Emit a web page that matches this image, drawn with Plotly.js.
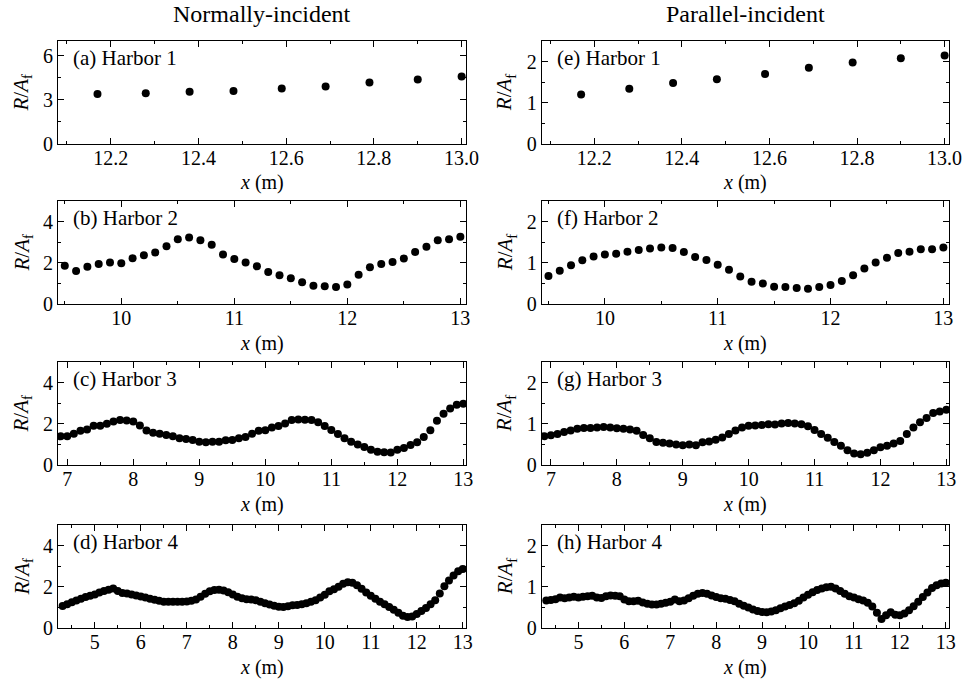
<!DOCTYPE html>
<html>
<head>
<meta charset="utf-8">
<script src="https://cdn.plot.ly/plotly-3.0.1.min.js"></script>
<style>
html,body{margin:0;padding:0;background:#fff;}
#chart{width:966px;height:679px;}
</style>
</head>
<body>
<div id="chart"></div>
<script>
// ---------- data ----------
var columnTitles = ["Normally-incident", "Parallel-incident"];
var panelLabels = ["(a) Harbor 1", "(b) Harbor 2", "(c) Harbor 3", "(d) Harbor 4",
                   "(e) Harbor 1", "(f) Harbor 2", "(g) Harbor 3", "(h) Harbor 4"];

var xH1 = [12.17, 12.28, 12.38, 12.48, 12.59, 12.69, 12.79, 12.90, 13.00];
var xH2 = [9.5, 9.6, 9.7, 9.8, 9.9, 10.0, 10.1, 10.2, 10.3, 10.4, 10.5, 10.6, 10.7, 10.8, 10.9,
           11.0, 11.1, 11.2, 11.3, 11.4, 11.5, 11.6, 11.7, 11.8, 11.9,
           12.0, 12.1, 12.2, 12.3, 12.4, 12.5, 12.6, 12.7, 12.8, 12.9, 13.0];
var xH3 = [6.9, 7.0, 7.1, 7.2, 7.3, 7.4, 7.5, 7.6, 7.7, 7.8, 7.9,
           8.0, 8.1, 8.2, 8.3, 8.4, 8.5, 8.6, 8.7, 8.8, 8.9,
           9.0, 9.1, 9.2, 9.3, 9.4, 9.5, 9.6, 9.7, 9.8, 9.9,
           10.0, 10.1, 10.2, 10.3, 10.4, 10.5, 10.6, 10.7, 10.8, 10.9,
           11.0, 11.1, 11.2, 11.3, 11.4, 11.5, 11.6, 11.7, 11.8, 11.9,
           12.0, 12.1, 12.2, 12.3, 12.4, 12.5, 12.6, 12.7, 12.8, 12.9, 13.0];
var xH4 = [4.3, 4.4, 4.5, 4.6, 4.7, 4.8, 4.9,
           5.0, 5.1, 5.2, 5.3, 5.4, 5.5, 5.6, 5.7, 5.8, 5.9,
           6.0, 6.1, 6.2, 6.3, 6.4, 6.5, 6.6, 6.7, 6.8, 6.9,
           7.0, 7.1, 7.2, 7.3, 7.4, 7.5, 7.6, 7.7, 7.8, 7.9,
           8.0, 8.1, 8.2, 8.3, 8.4, 8.5, 8.6, 8.7, 8.8, 8.9,
           9.0, 9.1, 9.2, 9.3, 9.4, 9.5, 9.6, 9.7, 9.8, 9.9,
           10.0, 10.1, 10.2, 10.3, 10.4, 10.5, 10.6, 10.7, 10.8, 10.9,
           11.0, 11.1, 11.2, 11.3, 11.4, 11.5, 11.6, 11.7, 11.8, 11.9,
           12.0, 12.1, 12.2, 12.3, 12.4, 12.5, 12.6, 12.7, 12.8, 12.9, 13.0];

// Normally-incident R/A_f
var normH1 = [3.39, 3.45, 3.55, 3.61, 3.77, 3.91, 4.18, 4.39, 4.59];
var normH2 = [1.86, 1.60, 1.81, 1.94, 2.01, 1.98, 2.22, 2.37, 2.50, 2.80, 3.14, 3.23, 3.09, 2.88, 2.40,
              2.19, 2.02, 1.83, 1.55, 1.40, 1.25, 1.05, 0.89, 0.86, 0.82,
              0.95, 1.42, 1.79, 1.94, 2.04, 2.21, 2.53, 2.78, 3.09, 3.14, 3.26];
var normH3 = [1.39, 1.39, 1.52, 1.66, 1.72, 1.90, 1.90, 2.00, 2.11, 2.18, 2.16,
              2.11, 1.92, 1.67, 1.56, 1.52, 1.46, 1.39, 1.30, 1.26, 1.21,
              1.13, 1.11, 1.13, 1.13, 1.20, 1.21, 1.30, 1.36, 1.52, 1.66,
              1.69, 1.82, 1.89, 2.02, 2.18, 2.21, 2.20, 2.18, 2.08, 1.89,
              1.70, 1.51, 1.30, 1.13, 1.00, 0.87, 0.74, 0.64, 0.62, 0.61,
              0.74, 0.82, 0.97, 1.10, 1.36, 1.69, 2.15, 2.49, 2.74, 2.93, 2.97];
var normH4 = [1.07, 1.15, 1.25, 1.33, 1.42, 1.50, 1.57,
              1.63, 1.72, 1.80, 1.86, 1.92, 1.80, 1.70, 1.67, 1.63, 1.58,
              1.53, 1.48, 1.42, 1.37, 1.32, 1.28, 1.27, 1.27, 1.27, 1.28,
              1.29, 1.32, 1.38, 1.52, 1.66, 1.78, 1.84, 1.86, 1.82, 1.74,
              1.63, 1.52, 1.44, 1.40, 1.38, 1.35, 1.28, 1.20, 1.14, 1.08,
              1.03, 1.02, 1.06, 1.10, 1.12, 1.15, 1.20, 1.27, 1.35, 1.48,
              1.62, 1.78, 1.88, 2.00, 2.15, 2.22, 2.20, 2.08, 1.90, 1.72,
              1.56, 1.42, 1.28, 1.15, 1.02, 0.88, 0.74, 0.60, 0.53, 0.56,
              0.68, 0.82, 0.97, 1.15, 1.35, 1.68, 2.03, 2.30, 2.55, 2.75, 2.87];

// Parallel-incident R/A_f
var parH1 = [1.20, 1.34, 1.48, 1.57, 1.70, 1.85, 1.98, 2.08, 2.15];
var parH2 = [0.68, 0.81, 0.94, 1.06, 1.15, 1.20, 1.22, 1.27, 1.31, 1.35, 1.37, 1.36, 1.26, 1.14, 1.07,
             0.95, 0.83, 0.67, 0.54, 0.50, 0.42, 0.41, 0.39, 0.37, 0.41,
             0.46, 0.56, 0.70, 0.86, 1.01, 1.12, 1.24, 1.27, 1.33, 1.33, 1.37];
var parH3 = [0.70, 0.72, 0.75, 0.80, 0.84, 0.88, 0.90, 0.90, 0.91, 0.92, 0.91,
             0.89, 0.88, 0.86, 0.83, 0.73, 0.65, 0.56, 0.54, 0.52, 0.50,
             0.48, 0.50, 0.48, 0.55, 0.57, 0.61, 0.67, 0.75, 0.84, 0.91,
             0.95, 0.96, 0.97, 0.99, 0.98, 1.01, 1.02, 1.01, 0.99, 0.94,
             0.85, 0.75, 0.66, 0.56, 0.47, 0.36, 0.28, 0.26, 0.30, 0.36,
             0.43, 0.47, 0.52, 0.58, 0.75, 0.91, 1.04, 1.14, 1.26, 1.30, 1.34];
var parH4 = [0.67, 0.68, 0.70, 0.74, 0.72, 0.74, 0.76,
             0.74, 0.76, 0.77, 0.78, 0.74, 0.73, 0.77, 0.79, 0.78, 0.77,
             0.69, 0.65, 0.65, 0.66, 0.62, 0.59, 0.57, 0.57, 0.59, 0.61,
             0.64, 0.69, 0.65, 0.67, 0.72, 0.78, 0.83, 0.85, 0.83, 0.79,
             0.75, 0.72, 0.71, 0.68, 0.65, 0.59, 0.54, 0.50, 0.45, 0.41,
             0.39, 0.38, 0.40, 0.43, 0.48, 0.52, 0.56, 0.60, 0.66, 0.74,
             0.81, 0.87, 0.92, 0.96, 0.99, 1.00, 0.96, 0.90, 0.83, 0.77,
             0.74, 0.70, 0.67, 0.61, 0.52, 0.37, 0.22, 0.31, 0.38, 0.32,
             0.31, 0.35, 0.43, 0.53, 0.64, 0.75, 0.86, 0.97, 1.04, 1.08, 1.10];

// ---------- layout geometry (pixels) ----------
var W = 966, H = 679;
var FAM = "Liberation Serif";
var colPx = [[58, 466], [541.7, 949]];
var rowPx = [[41, 144], [201, 304], [362, 465], [525, 628]];

var xsets = [xH1, xH2, xH3, xH4];
var ysets = [[normH1, normH2, normH3, normH4], [parH1, parH2, parH3, parH4]];
var xRanges = [[12.08, 13.01], [9.44, 13.05], [6.86, 13.04], [4.2, 13.07]];
var xDticks = [[0.2, 0.1], [1, 0.5], [1, 0.5], [1, 0.5]];
var yRanges = [[[0, 7], [0, 5], [0, 5], [0, 5]], [[0, 2.5], [0, 2.5], [0, 2.5], [0, 2.5]]];
var yDticks = [[[3, 1.5], [2, 1], [2, 1], [2, 1]], [[1, 0.5], [1, 0.5], [1, 0.5], [1, 0.5]]];

function px2x(p) { return p / W; }
function py2y(p) { return 1 - p / H; }

var traces = [];
var annos = [];
var layout = {
  width: W, height: H,
  margin: {l: 0, r: 0, t: 0, b: 0},
  paper_bgcolor: "#fff", plot_bgcolor: "#fff",
  showlegend: false,
  font: {family: FAM, color: "#000"}
};

function axisBase() {
  return {
    showline: true, linecolor: "#000", linewidth: 1, mirror: "allticks",
    ticks: "inside", ticklen: 6, tickwidth: 1, tickcolor: "#000",
    showgrid: false, zeroline: false, fixedrange: true,
    tickfont: {family: FAM, size: 20}
  };
}

for (var c = 0; c < 2; c++) {
  for (var r = 0; r < 4; r++) {
    var idx = c * 4 + r + 1;
    var sfx = (idx === 1 ? "" : String(idx));
    traces.push({
      type: "scatter", mode: "markers",
      x: xsets[r], y: ysets[c][r],
      xaxis: "x" + sfx, yaxis: "y" + sfx,
      marker: {color: "#000", size: 8},
      hoverinfo: "skip"
    });
    var xax = axisBase();
    xax.domain = [px2x(colPx[c][0]), px2x(colPx[c][1])];
    xax.anchor = "y" + sfx;
    xax.range = xRanges[r];
    xax.dtick = xDticks[r][0];
    xax.tick0 = 0;
    xax.ticklabelstandoff = -4;
    xax.minor = {ticks: "inside", ticklen: 3, tickwidth: 1, tickcolor: "#000", dtick: xDticks[r][1], tick0: 0};
    if (r === 0) xax.tickformat = ".1f";
    var yax = axisBase();
    yax.domain = [py2y(rowPx[r][1]), py2y(rowPx[r][0])];
    yax.anchor = "x" + sfx;
    yax.range = yRanges[c][r];
    yax.dtick = yDticks[c][r][0];
    yax.tick0 = 0;
    yax.minor = {ticks: "inside", ticklen: 3, tickwidth: 1, tickcolor: "#000", dtick: yDticks[c][r][1], tick0: 0};
    layout["xaxis" + sfx] = xax;
    layout["yaxis" + sfx] = yax;

    annos.push({
      text: panelLabels[idx - 1], xref: "paper", yref: "paper",
      x: px2x(colPx[c][0] + 13), y: py2y(rowPx[r][0] + 17),
      xanchor: "left", yanchor: "middle", showarrow: false,
      font: {family: FAM, size: 21}
    });
    annos.push({
      text: "<i>x</i> (m)", xref: "paper", yref: "paper",
      x: px2x((colPx[c][0] + colPx[c][1]) / 2), y: py2y(rowPx[r][1] + 39),
      xanchor: "center", yanchor: "middle", showarrow: false,
      font: {family: FAM, size: 20}
    });
    annos.push({
      text: "<i>R</i>/<i>A</i><sub>f</sub>", xref: "paper", yref: "paper",
      x: px2x(colPx[c][0] - 36), y: py2y((rowPx[r][0] + rowPx[r][1]) / 2),
      xanchor: "center", yanchor: "middle", showarrow: false, textangle: -90,
      font: {family: FAM, size: 21}
    });
  }
  annos.push({
    text: columnTitles[c], xref: "paper", yref: "paper",
    x: px2x((colPx[c][0] + colPx[c][1]) / 2), y: py2y(14),
    xanchor: "center", yanchor: "middle", showarrow: false,
    font: {family: FAM, size: 24}
  });
}
layout.annotations = annos;

Plotly.newPlot("chart", traces, layout, {displayModeBar: false});
</script>
</body>
</html>
